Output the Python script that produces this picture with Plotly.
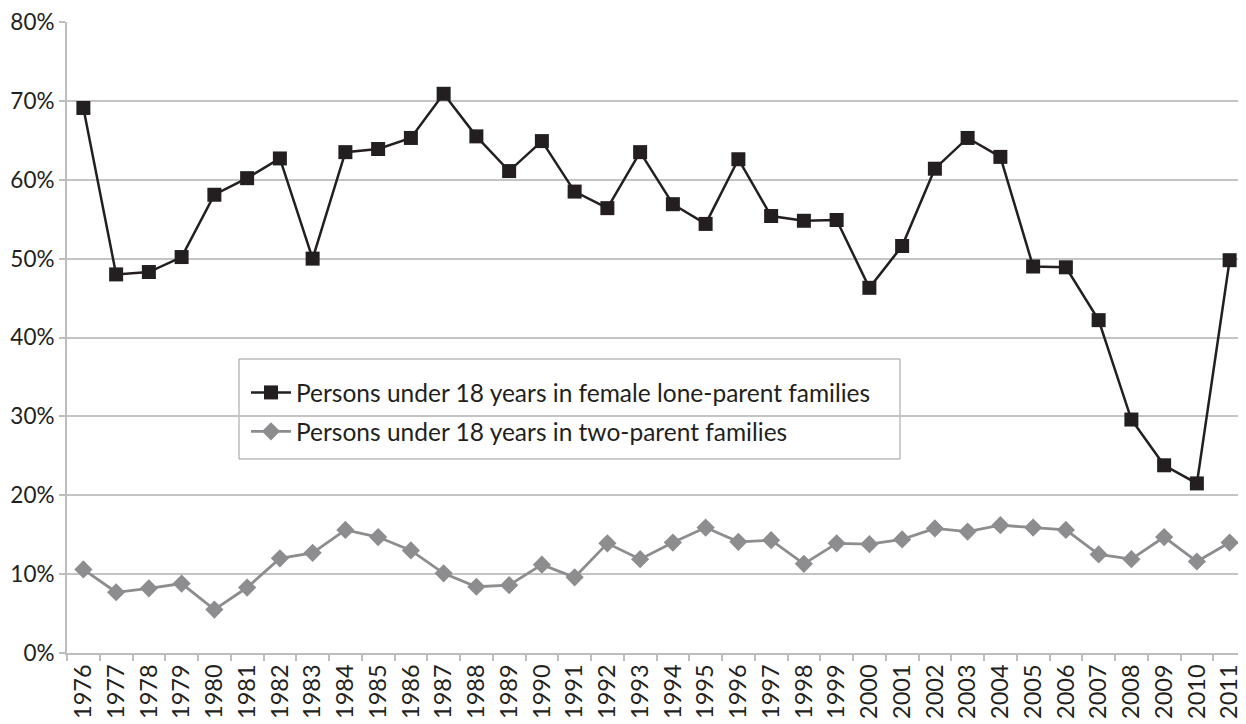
import plotly.graph_objects as go

years = [str(y) for y in range(1976, 2012)]
female_lone = [69.1, 48.0, 48.3, 50.2, 58.1, 60.2, 62.7, 50.0, 63.5, 63.9,
               65.3, 70.9, 65.5, 61.1, 64.9, 58.5, 56.4, 63.5, 56.9, 54.4,
               62.6, 55.4, 54.8, 54.9, 46.3, 51.6, 61.4, 65.3, 62.9, 49.0,
               48.9, 42.2, 29.6, 23.8, 21.5, 49.8]
two_parent = [10.6, 7.7, 8.2, 8.8, 5.5, 8.3, 12.0, 12.7, 15.6, 14.7,
              13.0, 10.1, 8.4, 8.6, 11.2, 9.6, 13.9, 11.9, 14.0, 15.9,
              14.1, 14.3, 11.3, 13.9, 13.8, 14.4, 15.8, 15.4, 16.2, 15.9,
              15.6, 12.5, 11.9, 14.7, 11.6, 14.0]
y_ticks = [0, 10, 20, 30, 40, 50, 60, 70, 80]
y_tick_labels = [f"{v}%" for v in y_ticks]

FONT = "Lato"
TEXT = "#231f20"

fig = go.Figure()
fig.add_trace(go.Scatter(
    x=years, y=female_lone, mode="lines+markers",
    name="Persons under 18 years in female lone-parent families",
    legendgroup="a",
    line=dict(color="#231f20", width=2.5),
    marker=dict(symbol="square", size=14, color="#231f20"),
))
fig.add_trace(go.Scatter(
    x=years, y=two_parent, mode="lines+markers",
    name="Persons under 18 years in two-parent families",
    legendgroup="b",
    line=dict(color="#8d8d90", width=2.8),
    marker=dict(symbol="diamond", size=14, color="#8d8d90"),
))

# page is offset by the 8px body margin
W, H = 1238, 716
L, R, T, B = 59, 0, 14, 71
PW, PH = W - L - R, H - T - B

def px_x(page_x):
    return (page_x - 8 - L) / PW

def px_y(page_y):
    return (H - B - (page_y - 8)) / PH

fig.update_layout(
    width=W, height=H,
    margin=dict(l=L, r=R, t=T, b=B, autoexpand=False),
    paper_bgcolor="white", plot_bgcolor="white",
    font=dict(family=FONT, color=TEXT, size=23),
    legend=dict(
        x=px_x(246), y=px_y(370), xanchor="left", yanchor="top",
        bgcolor="rgba(0,0,0,0)", borderwidth=0,
        font=dict(size=24.5, family=FONT, color=TEXT),
        tracegroupgap=4, itemwidth=40,
    ),
    shapes=[dict(
        type="rect", xref="paper", yref="paper",
        x0=px_x(239), x1=px_x(900),
        y0=px_y(459), y1=px_y(359),
        line=dict(color="#9a9a9a", width=1), fillcolor="rgba(0,0,0,0)",
        layer="below",
    )],
)
fig.update_xaxes(
    type="category", tickson="boundaries", ticks="outside", ticklen=6,
    tickcolor="#bdbdbd", tickwidth=1.5, automargin=False,
    showline=True, linecolor="#bdbdbd", linewidth=2,
    showgrid=False, tickangle=-90,
    tickfont=dict(size=23.5, family=FONT, color=TEXT),
    range=[-0.5, len(years) - 0.5],
)
fig.update_yaxes(
    range=[0, 80], tickvals=y_ticks, ticktext=y_tick_labels,
    ticks="outside", ticklen=6, tickcolor="#bdbdbd", tickwidth=1.5,
    showline=True, linecolor="#bdbdbd", linewidth=2, automargin=False,
    showgrid=True, gridcolor="#c4c4c4", gridwidth=1.5,
    zeroline=False, ticklabeloverflow="allow",
    tickfont=dict(size=22.5, family=FONT, color=TEXT),
)

fig.write_html("out.html")
